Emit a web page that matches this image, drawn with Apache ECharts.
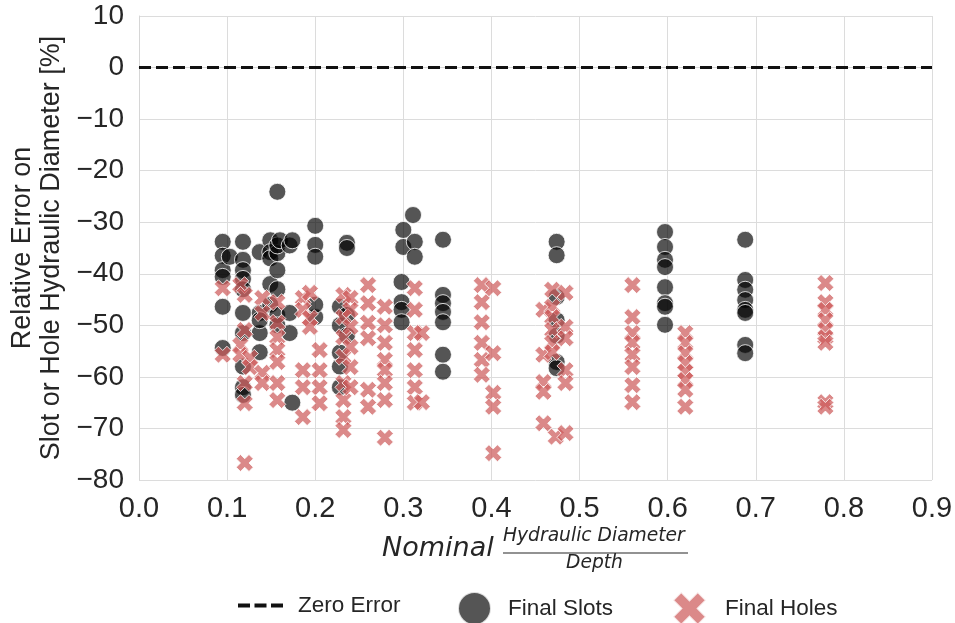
<!DOCTYPE html>
<html>
<head>
<meta charset="utf-8">
<script src="https://cdn.jsdelivr.net/npm/echarts@6/dist/echarts.min.js"></script>
<style>
  html, body { margin: 0; padding: 0; background: #fff; }
  #chart { width: 955px; height: 623px; }
</style>
</head>
<body>
<div id="chart"></div>
<script>
// slots (black circles)
const slotsX = [
  0.095, 0.095, 0.095, 0.095, 0.095, 0.095,
  0.103,
  0.118, 0.118, 0.118, 0.118, 0.118, 0.118, 0.118, 0.118, 0.118, 0.118,
  0.137, 0.137, 0.137, 0.137, 0.137,
  0.149, 0.149, 0.149, 0.149, 0.149,
  0.157, 0.157, 0.157, 0.157, 0.157, 0.157, 0.157,
  0.16,
  0.171, 0.171, 0.171,
  0.174, 0.174,
  0.2, 0.2, 0.2, 0.2, 0.2,
  0.228, 0.228, 0.228, 0.228, 0.228,
  0.236, 0.236, 0.236, 0.236,
  0.298, 0.298, 0.298, 0.298,
  0.30, 0.30,
  0.311,
  0.313, 0.313,
  0.345, 0.345, 0.345, 0.345, 0.345, 0.345, 0.345,
  0.474, 0.474, 0.474, 0.474, 0.474, 0.474, 0.474,
  0.597, 0.597, 0.597, 0.597, 0.597, 0.597, 0.597, 0.597,
  0.688, 0.688, 0.688, 0.688, 0.688, 0.688, 0.688, 0.688
];
const slotsY = [
  -33.8, -36.5, -39.3, -40.6, -46.4, -54.4,
  -36.7,
  -33.8, -37.3, -39.3, -41, -43, -47.6, -51.5, -58, -62, -63.5,
  -35.8, -47.6, -51.5, -55.2, -49,
  -33.5, -35.8, -37, -42, -46,
  -24.1, -39.3, -43, -36, -34.5, -48, -50,
  -33.5,
  -47.6, -51.5, -34.5,
  -33.5, -65,
  -30.7, -34.4, -36.7, -48.4, -46,
  -46.4, -55.3, -62, -58, -50,
  -34, -35, -48, -52,
  -41.6, -45.5, -47, -49.4,
  -31.5, -34.8,
  -28.6,
  -33.8, -36.7,
  -33.4, -44.1, -45.7, -47.4, -49.4, -55.7, -59,
  -33.8, -36.4, -44.5, -49, -57.1, -58.3, -52,
  -31.9, -34.8, -37.3, -38.7, -42.6, -45.7, -46.4, -49.9,
  -33.4, -41.2, -43.1, -45.1, -47, -47.6, -53.8, -55.4
];

// holes (red crosses)
const holesX = [
  0.095, 0.095,
  0.115, 0.115, 0.115,
  0.12, 0.12, 0.12, 0.12, 0.12,
  0.126, 0.126,
  0.14, 0.14, 0.14, 0.14,
  0.157, 0.157, 0.157, 0.157, 0.157, 0.157, 0.157,
  0.186, 0.186, 0.186, 0.186, 0.186,
  0.194, 0.194, 0.194,
  0.205, 0.205, 0.205, 0.205,
  0.232, 0.232, 0.232, 0.232, 0.232, 0.232, 0.232, 0.232,
  0.24, 0.24, 0.24, 0.24, 0.24, 0.24,
  0.26, 0.26, 0.26, 0.26, 0.26, 0.26,
  0.279, 0.279, 0.279, 0.279, 0.279, 0.279, 0.279, 0.279,
  0.313, 0.313, 0.313, 0.313, 0.313, 0.313, 0.313,
  0.321, 0.321,
  0.389, 0.389, 0.389, 0.389, 0.389, 0.389,
  0.402, 0.402, 0.402, 0.402, 0.402,
  0.459, 0.459, 0.459, 0.459, 0.459,
  0.469, 0.469, 0.469, 0.469, 0.469, 0.469,
  0.473,
  0.484, 0.484, 0.484, 0.484, 0.484, 0.484,
  0.56, 0.56, 0.56, 0.56, 0.56, 0.56, 0.56, 0.56,
  0.62, 0.62, 0.62, 0.62, 0.62, 0.62, 0.62, 0.62,
  0.779, 0.779, 0.779, 0.779, 0.779, 0.779, 0.779, 0.779, 0.779
];
const holesY = [
  -42.8, -55.7,
  -42.2, -53.8, -55.7,
  -44.1, -50.9, -61.2, -65.1, -76.7,
  -56.3, -58.1,
  -44.7, -47.6, -59.2, -61.2,
  -45.5, -49.5, -52.3, -54.8, -57.1, -61.2, -64.5,
  -44.7, -47, -58.7, -62, -67.8,
  -43.7, -48.6, -50.3,
  -54.8, -58.7, -62, -65.1,
  -44.1, -48.4, -52.3, -56.1, -61.2, -64.5, -67.8, -70.3,
  -44.7, -47, -50.3, -54.2, -58.1, -62,
  -42.2, -45.7, -49.5, -52.5, -62.5, -65.8,
  -46.4, -50, -53.4, -56.7, -58.7, -61.2, -64.5, -71.8,
  -42.8, -47, -51.5, -54.8, -58.7, -62, -65,
  -51.5, -64.9,
  -42.2, -45.5, -49.4, -53.4, -56.7, -59.6,
  -42.8, -55.4, -63.1, -65.8, -74.8,
  -47, -55.7, -61, -62.9, -69,
  -43.1, -46.4, -48.4, -50.9, -53.4, -55.2,
  -71.6,
  -43.7, -50.3, -52.5, -58.7, -61.2, -70.9,
  -42.2, -48.4, -51.5, -53.4, -55.7, -58.1, -61.6, -64.9,
  -51.5, -53.4, -55.4, -57.3, -59, -60.6, -62.5, -65.8,
  -41.8, -45.5, -47, -49, -50.9, -52.3, -53.4, -64.9, -65.8
];

const zeroLineX = [0, 0.9];
const zeroLineY = [0, 0];

const X_PATH = 'path://M0,2.5L2.5,0L5,2.5L7.5,0L10,2.5L7.5,5L10,7.5L7.5,10L5,7.5L2.5,10L0,7.5L2.5,5Z';
const DASH_PATH = 'path://M0,0h12v4h-12z M16.5,0h12v4h-12z M33,0h12v4h-12z';
const minus = v => String(v).replace('-', '\u2212');

const zip = (xs, ys) => xs.map((x, i) => [x, ys[i]]);

const legendText = pad => ({ color: '#262626', fontSize: 22.5, padding: [0, 0, 0, pad] });

const chart = echarts.init(document.getElementById('chart'));
chart.setOption({
  backgroundColor: '#fff',
  animation: false,
  textStyle: { fontFamily: 'Liberation Sans, Arial, sans-serif' },
  grid: { left: 139, right: 23, top: 16, bottom: 143, containLabel: false, outerBoundsMode: 'none' },
  xAxis: {
    type: 'value', min: 0, max: 0.9, interval: 0.1,
    axisLine: { show: true, lineStyle: { color: '#d6d6d6', width: 1 } },
    axisTick: { show: false },
    splitLine: { show: true, lineStyle: { color: '#dcdcdc', width: 1 } },
    axisLabel: { color: '#262626', fontSize: 29, margin: 14, formatter: v => v.toFixed(1) }
  },
  yAxis: {
    type: 'value', min: -80, max: 10, interval: 10,
    axisLine: { show: true, lineStyle: { color: '#d6d6d6', width: 1 } },
    axisTick: { show: false },
    splitLine: { show: true, lineStyle: { color: '#dcdcdc', width: 1 } },
    axisLabel: { color: '#262626', fontSize: 28, margin: 15, formatter: v => minus(v) },
    name: 'Relative Error on\nSlot or Hole Hydraulic Diameter [%]',
    nameLocation: 'middle', nameRotate: 90, nameGap: 70,
    nameTextStyle: { color: '#262626', fontSize: 27, lineHeight: 29 }
  },
  legend: [{
    left: 233, top: 589, itemWidth: 45, itemHeight: 4,
    data: [{ name: 'Zero Error', icon: DASH_PATH }],
    textStyle: legendText(10)
  }, {
    left: 452, top: 586, itemWidth: 33, itemHeight: 33,
    data: [{ name: 'Final Slots', icon: 'circle' }],
    textStyle: legendText(12)
  }, {
    left: 667, top: 586, itemWidth: 33, itemHeight: 33,
    data: [{ name: 'Final Holes', icon: X_PATH }],
    textStyle: legendText(14)
  }],
  graphic: [
    { type: 'text', left: 382, top: 535,
      style: { text: 'Nominal', font: 'italic 27px "DejaVu Sans"', fill: '#262626' } },
    { type: 'text', left: 503, top: 527,
      style: { text: 'Hydraulic Diameter', font: 'italic 18.7px "DejaVu Sans"', fill: '#262626' } },
    { type: 'line', shape: { x1: 503, y1: 553, x2: 688, y2: 553 },
      style: { stroke: '#262626', lineWidth: 1.2 } },
    { type: 'text', left: 566, top: 554,
      style: { text: 'Depth', font: 'italic 18.7px "DejaVu Sans"', fill: '#262626' } }
  ],
  series: [
    {
      name: 'Zero Error', type: 'line', data: zip(zeroLineX, zeroLineY),
      symbol: 'none', z: 3,
      lineStyle: { color: '#111', width: 3, type: [12, 5] },
      itemStyle: { color: '#111' }
    },
    {
      name: 'Final Slots', type: 'scatter', data: zip(slotsX, slotsY),
      symbol: 'circle', symbolSize: 17, z: 4,
      itemStyle: { color: 'rgba(0,0,0,0.83)', borderColor: '#fff', borderWidth: 1 }
    },
    {
      name: 'Final Holes', type: 'scatter', data: zip(holesX, holesY),
      symbol: X_PATH, symbolSize: 17, z: 5,
      itemStyle: { color: 'rgba(205,92,92,0.9)', borderColor: '#fff', borderWidth: 1 }
    }
  ]
});
</script>
</body>
</html>
